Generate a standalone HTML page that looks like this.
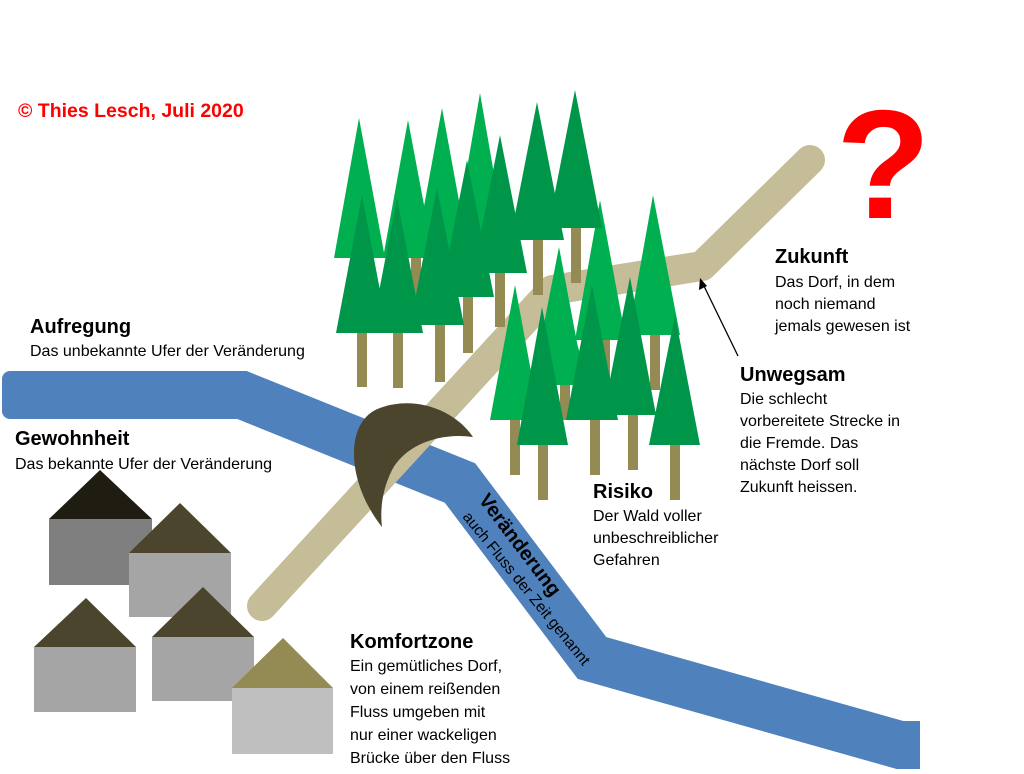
<!DOCTYPE html>
<html><head><meta charset="utf-8"><style>
html,body{margin:0;padding:0;background:#fff;}
svg{display:block;}
text{font-family:"Liberation Sans",sans-serif;}
</style></head><body>
<svg width="1024" height="774" viewBox="0 0 1024 774" xmlns="http://www.w3.org/2000/svg">
<rect width="1024" height="774" fill="#fff"/>
<!-- river -->
<polyline points="20,395 242,395 460,483 592,658 900,745 920,745" fill="none" stroke="#4f81bd" stroke-width="48" stroke-linejoin="miter"/>
<rect x="2" y="371" width="30" height="48" rx="8" fill="#4f81bd"/>
<!-- road -->
<polyline points="262,606 552,290 702,266 810,160" fill="none" stroke="#c4bd97" stroke-width="30" stroke-linecap="round" stroke-linejoin="round"/>
<!-- trees -->
<g fill="#948a54">
<rect x="357" y="300" width="10" height="87"/><rect x="393" y="300" width="10" height="88"/><rect x="435" y="300" width="10" height="82"/><rect x="463" y="260" width="10" height="93"/>
<rect x="495" y="260" width="10" height="67"/><rect x="533" y="230" width="10" height="65"/><rect x="571" y="220" width="10" height="63"/><rect x="411" y="250" width="10" height="60"/>
<rect x="510" y="410" width="10" height="65"/><rect x="538" y="430" width="10" height="70"/><rect x="590" y="400" width="10" height="75"/><rect x="628" y="400" width="10" height="70"/>
<rect x="670" y="430" width="10" height="70"/><rect x="650" y="330" width="10" height="60"/><rect x="600" y="330" width="10" height="60"/><rect x="560" y="380" width="10" height="40"/>
</g>
<g fill="#00b050">
<polygon points="359,118 334,258 385,258"/><polygon points="408,120 383,258 434,258"/><polygon points="442,108 416,250 468,250"/><polygon points="480,93 452,255 508,255"/>
<polygon points="600,200 575,340 626,340"/><polygon points="559,247 532,385 585,385"/><polygon points="653,195 628,335 680,335"/><polygon points="515,285 490,420 540,420"/><polygon points="560,290 530,385 590,385"/>
</g>
<g fill="#00964a">
<polygon points="362,195 336,333 388,333"/><polygon points="397,198 371,333 423,333"/><polygon points="437,188 410,325 464,325"/><polygon points="467,160 440,297 494,297"/>
<polygon points="500,135 473,273 527,273"/><polygon points="537,102 510,240 564,240"/><polygon points="575,90 548,228 602,228"/>
<polygon points="592,285 566,420 618,420"/><polygon points="542,307 517,445 568,445"/><polygon points="630,277 603,415 656,415"/><polygon points="675,315 649,445 700,445"/>
</g>
<!-- bridge -->
<path d="M382,527 C345,480 345,420 380,408 C415,395 455,410 473,437 C440,432 405,445 392,470 C382,490 380,510 382,527 Z" fill="#4b452e"/>
<!-- houses -->
<polygon points="100,470 49,519 152,519" fill="#1f1c12"/><rect x="49" y="519" width="103" height="66" fill="#7f7f7f"/>
<polygon points="180,503 129,553 231,553" fill="#4b452e"/><rect x="129" y="553" width="102" height="64" fill="#a5a5a5"/>
<polygon points="86,598 34,647 136,647" fill="#4b452e"/><rect x="34" y="647" width="102" height="65" fill="#a5a5a5"/>
<polygon points="203,587 152,637 254,637" fill="#4b452e"/><rect x="152" y="637" width="102" height="64" fill="#a5a5a5"/>
<polygon points="283,638 232,688 333,688" fill="#948a54"/><rect x="232" y="688" width="101" height="66" fill="#bfbfbf"/>
<!-- arrow -->
<line x1="738" y1="356" x2="703" y2="284" stroke="#000" stroke-width="1.3"/>
<polygon points="700,278 699,290 707,286" fill="#000"/>
<!-- texts -->
<text x="18" y="117" font-size="19.5" font-weight="bold" fill="#ff0000">© Thies Lesch, Juli 2020</text>
<text x="836" y="218" font-size="155" font-weight="bold" fill="#ff0000" font-family="DejaVu Sans, sans-serif">?</text>
<g font-size="16" fill="#000">
<text x="30" y="333" font-size="20" font-weight="bold">Aufregung</text>
<text x="30" y="356">Das unbekannte Ufer der Veränderung</text>
<text x="15" y="445" font-size="20" font-weight="bold">Gewohnheit</text>
<text x="15" y="469">Das bekannte Ufer der Veränderung</text>
<text x="775" y="263" font-size="20" font-weight="bold">Zukunft</text>
<text x="775" y="287">Das Dorf, in dem</text><text x="775" y="309">noch niemand</text><text x="775" y="331">jemals gewesen ist</text>
<text x="740" y="381" font-size="20" font-weight="bold">Unwegsam</text>
<text x="740" y="404">Die schlecht</text><text x="740" y="426">vorbereitete Strecke in</text><text x="740" y="448">die Fremde. Das</text><text x="740" y="470">nächste Dorf soll</text><text x="740" y="492">Zukunft heissen.</text>
<text x="593" y="498" font-size="20" font-weight="bold">Risiko</text>
<text x="593" y="521">Der Wald voller</text><text x="593" y="543">unbeschreiblicher</text><text x="593" y="565">Gefahren</text>
<text x="350" y="648" font-size="20" font-weight="bold">Komfortzone</text>
<text x="350" y="671">Ein gemütliches Dorf,</text><text x="350" y="694">von einem reißenden</text><text x="350" y="717">Fluss umgeben mit</text><text x="350" y="740">nur einer wackeligen</text><text x="350" y="763">Brücke über den Fluss</text>
<text transform="translate(478,500) rotate(53)" font-size="20" font-weight="bold">Veränderung</text>
<text transform="translate(462,517) rotate(51)" font-size="15.5">auch Fluss der Zeit genannt</text>
</g>
</svg>
</body></html>
